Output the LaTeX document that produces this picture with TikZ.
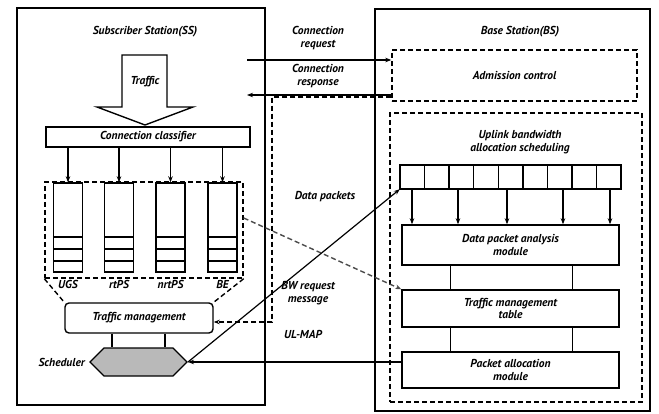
\documentclass[tikz,border=0pt]{standalone}
\usepackage{fontspec}
\setmainfont{PT Sans}
\usepackage{tikz}
\usetikzlibrary{arrows.meta, shapes.symbols, calc}

\tikzset{
  box/.style={draw, line width=1.4pt, inner sep=0pt, align=center},
  dbox/.style={draw, line width=1.4pt, inner sep=0pt, dash pattern=on 5pt off 3pt},
  lbl/.style={align=center, inner sep=0pt},
  conn/.style={line width=1.2pt},
}

\begin{document}
\begin{tikzpicture}[x=1pt, y=-1pt, >={Stealth[length=6pt,width=4.5pt]},
  font=\fontsize{11.5}{12.5}\selectfont\bfseries\itshape]
\useasboundingbox (0,0) rectangle (659,414);

%-- station frames
\node[box, line width=1.6pt, minimum width=248pt, minimum height=397pt] (ss) at (141,206.5) {};
\node[box, line width=1.6pt, minimum width=275pt, minimum height=402pt] (bs) at (512.5,210) {};
\node[lbl] (sstitle) at (145,32) {Subscriber Station(SS)};
\node[lbl] (bstitle) at (520,32) {Base Station(BS)};

%-- traffic arrow
\draw[line width=1.4pt] (122,55) -- (167,55) -- (167,107) -- (193,107) -- (145,125)
  -- (97,107) -- (122,107) -- cycle;
\node[lbl] (traffic) at (145,82) {Traffic};

%-- classifier and queues
\node[box, minimum width=204pt, minimum height=20pt] (cls) at (148,137) {Connection classifier};
\node[dbox, minimum width=198pt, minimum height=96pt] (qbox) at (144,230) {};
\foreach \i/\x/\t in {1/68/UGS, 2/119/rtPS, 3/170.5/nrtPS, 4/222.5/BE} {
  \node[box, minimum width=29pt, minimum height=89pt] (q\i) at (\x,227.5) {};
  \foreach \y in {237,249,261}
    \draw[conn] (q\i.west |- 0,\y) -- (q\i.east |- 0,\y);
  \draw[conn, ->] (cls.south -| q\i.north) -- (q\i.north);
  \node[lbl] (ql\i) at (\x,284) {\t};
}

%-- traffic management and scheduler
\node[box, rounded corners=4pt, minimum width=148pt, minimum height=30pt] (tm) at (139,318) {Traffic management};
\draw[dbox] (qbox.south west) -- (tm.north west);
\draw[dbox] (qbox.south east) -- (tm.north east);
\node[draw, line width=1.4pt, signal, signal to=west and east, fill=gray!55,
  minimum width=97pt, minimum height=28pt, inner sep=0pt] (sched) at (138.5,362) {};
\draw[conn] (tm.south -| 112,0) -- (sched.north -| 112,0);
\draw[conn] (tm.south -| 165,0) -- (sched.north -| 165,0);
\node[lbl, anchor=east] (schedlbl) at ([xshift=-4pt]sched.west) {Scheduler};

%-- base station blocks
\node[dbox, minimum width=245pt, minimum height=51pt] (adm) at (514.5,75.5) {Admission control};
\node[dbox, minimum width=252pt, minimum height=289pt] (ubas) at (516,257.5) {};
\node[lbl] (ubastitle) at (520,142) {Uplink bandwidth\\allocation scheduling};
\node[minimum width=221pt, minimum height=24pt, inner sep=0pt] (qrow) at (510.5,177) {};
\foreach \i in {1,...,9}
  \node[box, minimum width=24.56pt, minimum height=24pt] (c\i) at ({400+24.56*(\i-0.5)},177) {};
\node[box, minimum width=217pt, minimum height=40pt] (dpa) at (510.5,245) {Data packet analysis\\module};
\node[box, minimum width=217pt, minimum height=37pt] (tmt) at (510.5,308.5) {Traffic management\\table};
\node[box, minimum width=217pt, minimum height=36pt] (pam) at (510.5,370) {Packet allocation\\module};
\foreach \x in {412,458,507,563,610}
  \draw[conn, ->] (qrow.south -| \x,0) -- (dpa.north -| \x,0);
\foreach \x in {450,572} {
  \draw[line width=0.7pt] (dpa.south -| \x,0) -- (tmt.north -| \x,0);
  \draw[line width=0.7pt] (tmt.south -| \x,0) -- (pam.north -| \x,0);
}

%-- signalling between SS and BS
\coordinate (reqA) at (247,60);
\coordinate (rspB) at (247,95);
\draw[conn, ->] (reqA) -- (adm.west |- reqA);
\draw[conn, ->] (adm.west |- rspB) -- (rspB);
\node[lbl] (reqlbl) at (318,38) {Connection\\request};
\node[lbl] (rsplbl) at (318,76) {Connection\\response};
\draw[dbox, ->] (adm.west |- 0,97) -- (272,97) -- (272,322) -- (tm.east |- 0,322);

\draw[dbox, black!70, ->] (qbox.east |- 0,218) -- (tmt.north west);
\node[lbl] (datalbl) at (325,197) {Data packets};

\draw[conn, ->] (sched.east) -- (qrow.south west);
\node[lbl] (bwlbl) at (308,293) {BW request\\message};

\draw[conn, ->] (pam.west |- sched.east) -- (sched.east);
\node[lbl] (ulmap) at (303,334) {UL-MAP};

\end{tikzpicture}
\end{document}
